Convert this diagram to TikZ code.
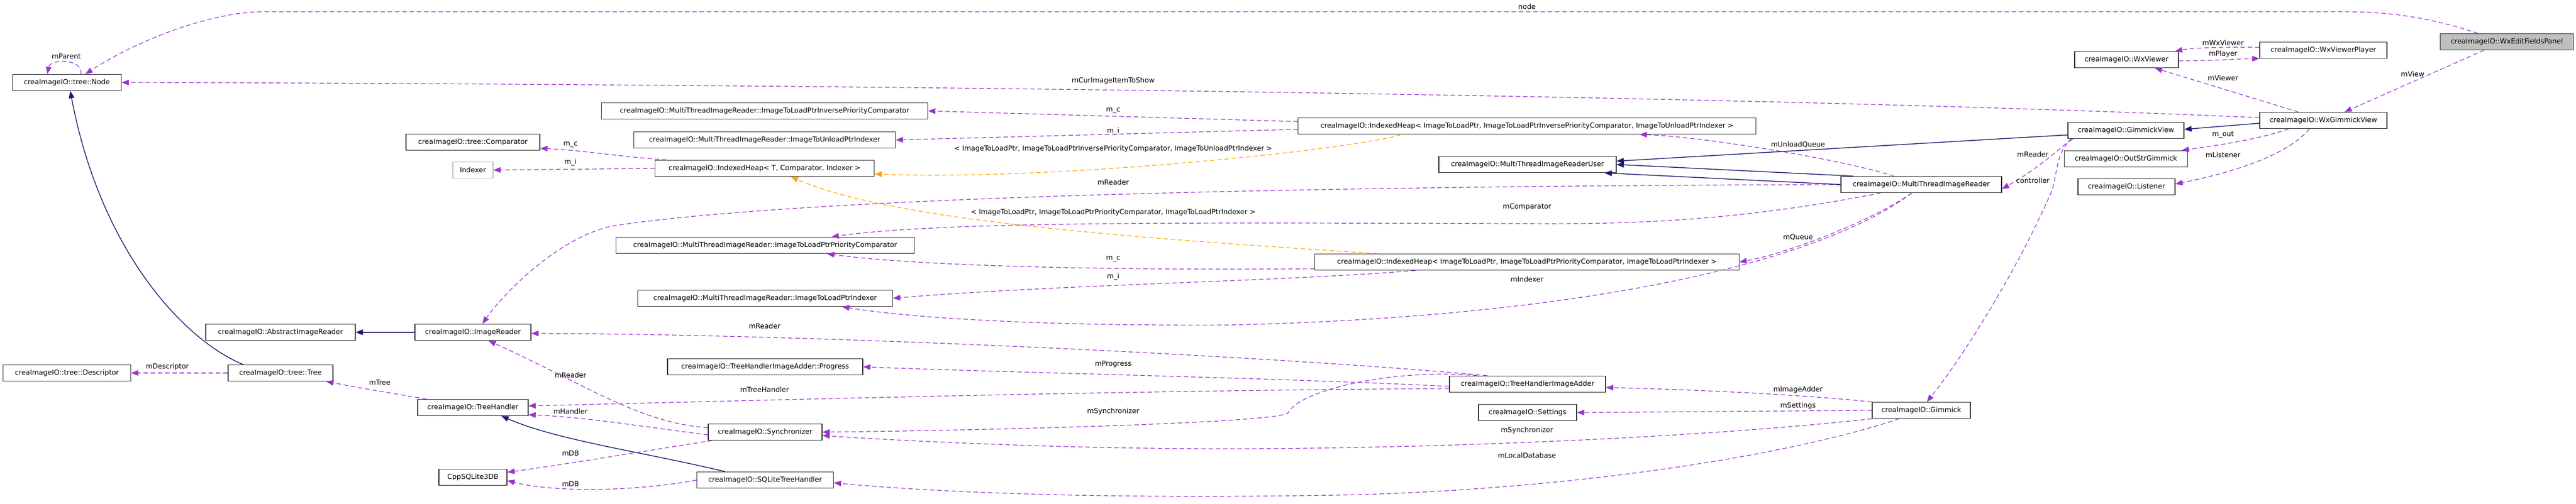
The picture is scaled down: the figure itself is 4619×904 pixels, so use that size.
\documentclass[tikz,border=0pt]{standalone}
\usepackage{fontspec}
\setmainfont{DejaVu Sans}
\usetikzlibrary{arrows.meta}
\definecolor{mbr}{HTML}{9A32CD}
\definecolor{inh}{HTML}{191970}
\definecolor{tpl}{HTML}{FFA500}
\tikzset{
  cls/.style={draw=black!80, line width=1.3pt, minimum height=29pt, inner sep=0pt, font=\fontsize{12.5}{14}\selectfont},
  lbl/.style={inner sep=0pt, font=\fontsize{12.5}{14}\selectfont},
  member/.style={draw=mbr, line width=1.2pt, dash pattern=on 8pt off 5pt, -{Triangle[length=13pt,width=10pt]}},
  tmpl/.style={member, draw=tpl, -{Triangle[length=13pt,width=10pt,color=tpl]}},
  inherit/.style={draw=inh, line width=1.4pt, -{Triangle[length=13pt,width=10pt]}}
}
\begin{document}
\begin{tikzpicture}[x=1pt,y=-1pt]
\useasboundingbox (0,0) rectangle (4619,904);

\node[cls, minimum width=195] (node) at (120,148) {creaImageIO::tree::Node};
\node[cls, minimum width=240] (comparator) at (848,255) {creaImageIO::tree::Comparator};
\node[cls, minimum width=72, draw=black!25] (indexer) at (848,305) {Indexer};
\node[cls, minimum width=268] (abstractreader) at (503,596) {creaImageIO::AbstractImageReader};
\node[cls, minimum width=208] (imagereader) at (848,596) {creaImageIO::ImageReader};
\node[cls, minimum width=229] (descriptor) at (120,669) {creaImageIO::tree::Descriptor};
\node[cls, minimum width=188] (tree) at (503,669) {creaImageIO::tree::Tree};
\node[cls, minimum width=198] (treehandler) at (848,731) {creaImageIO::TreeHandler};
\node[cls, minimum width=122] (sqlitedb) at (848,856) {CppSQLite3DB};
\node[cls, minimum width=585] (invcomparator) at (1371,199) {creaImageIO::MultiThreadImageReader::ImageToLoadPtrInversePriorityComparator};
\node[cls, minimum width=469] (unloadindexer) at (1371,251) {creaImageIO::MultiThreadImageReader::ImageToUnloadPtrIndexer};
\node[cls, minimum width=393] (heapT) at (1371,302) {creaImageIO::IndexedHeap< T, Comparator, Indexer >};
\node[cls, minimum width=535] (prioritycomparator) at (1372,440) {creaImageIO::MultiThreadImageReader::ImageToLoadPtrPriorityComparator};
\node[cls, minimum width=457] (loadindexer) at (1372,535) {creaImageIO::MultiThreadImageReader::ImageToLoadPtrIndexer};
\node[cls, minimum width=350] (progress) at (1372,658) {creaImageIO::TreeHandlerImageAdder::Progress};
\node[cls, minimum width=204] (synchronizer) at (1372,775) {creaImageIO::Synchronizer};
\node[cls, minimum width=245] (sqlitetreehandler) at (1372,861) {creaImageIO::SQLiteTreeHandler};
\node[cls, minimum width=821] (heapinv) at (2738,226) {creaImageIO::IndexedHeap< ImageToLoadPtr, ImageToLoadPtrInversePriorityComparator, ImageToUnloadPtrIndexer >};
\node[cls, minimum width=318] (readeruser) at (2739,295) {creaImageIO::MultiThreadImageReaderUser};
\node[cls, minimum width=761] (heapprio) at (2738,470) {creaImageIO::IndexedHeap< ImageToLoadPtr, ImageToLoadPtrPriorityComparator, ImageToLoadPtrIndexer >};
\node[cls, minimum width=280] (imageadder) at (2739,689) {creaImageIO::TreeHandlerImageAdder};
\node[cls, minimum width=176] (settings) at (2739,740) {creaImageIO::Settings};
\node[cls, minimum width=288] (mtreader) at (3445,331) {creaImageIO::MultiThreadImageReader};
\node[cls, minimum width=176] (gimmick) at (3445,736) {creaImageIO::Gimmick};
\node[cls, minimum width=208] (gimmickview) at (3812,234) {creaImageIO::GimmickView};
\node[cls, minimum width=186] (wxviewer) at (3813,107) {creaImageIO::WxViewer};
\node[cls, minimum width=221] (outstr) at (3812,285) {creaImageIO::OutStrGimmick};
\node[cls, minimum width=174] (listener) at (3813,335) {creaImageIO::Listener};
\node[cls, minimum width=228] (wxplayer) at (4166,90) {creaImageIO::WxViewerPlayer};
\node[cls, minimum width=228] (wxgimmickview) at (4166,216) {creaImageIO::WxGimmickView};
\node[cls, minimum width=239, fill=black!25] (editpanel) at (4495,75) {creaImageIO::WxEditFieldsPanel};

\draw[member] ([xshift=-52]editpanel.north) .. controls (4330,22) and (4250,21) .. (4186,21) -- (474,21) .. controls (380,21) and (250,70) .. ([xshift=33]node.north);
\draw[member] ([xshift=25]node.north) .. controls (150,105) and (90,105) .. ([xshift=-35]node.north);
\draw[member] ([yshift=5]wxgimmickview.west) .. controls (3000,165) and (1200,150) .. (node.east);
\draw[member] ([yshift=8]heapinv.west) -- (invcomparator.east);
\draw[member] ([yshift=-6]heapinv.west) -- (unloadindexer.east);
\draw[tmpl] ([xshift=-226]heapinv.south) .. controls (2450,265) and (1900,325) .. ([yshift=-10]heapT.east);
\draw[member] ([xshift=-176]heapT.north) .. controls (1100,280) and (1050,270) .. ([yshift=-11]comparator.east);
\draw[member] (heapT.west) -- (indexer.east);
\draw[member] (mtreader.west) .. controls (2600,333) and (1500,345) .. (1100,405) .. controls (1000,425) and (900,530) .. ([xshift=17]imagereader.north);
\draw[tmpl] ([xshift=-268]heapprio.north) .. controls (2000,425) and (1600,395) .. ([xshift=47]heapT.south);
\draw[member] ([xshift=-73]mtreader.south) .. controls (3100,400) and (2900,402) .. (2738,401) .. controls (2200,400) and (1700,395) .. ([xshift=119]prioritycomparator.north);
\draw[member] ([yshift=-12]heapprio.west) .. controls (2000,485) and (1650,478) .. ([xshift=111]prioritycomparator.south);
\draw[member] ([xshift=-200]heapprio.south) .. controls (2300,505) and (1900,510) .. (loadindexer.east);
\draw[member] ([xshift=-49]mtreader.north) .. controls (3300,285) and (3050,245) .. ([xshift=202]heapinv.south);
\draw[inherit] ([yshift=-8]gimmickview.west) -- ([yshift=6]readeruser.east);
\draw[inherit] ([xshift=-122]mtreader.north) -- (readeruser.east);
\draw[inherit] (mtreader.west) -- ([xshift=138]readeruser.south);
\draw[member] ([xshift=-17]mtreader.south) .. controls (3350,400) and (3200,455) .. (heapprio.east);
\draw[member] ([xshift=-17]mtreader.south) .. controls (3250,480) and (2800,570) .. (2200,583) .. controls (1800,585) and (1600,565) .. ([xshift=138]loadindexer.south);
\draw[member] ([xshift=-72]imageadder.north) .. controls (2300,640) and (1500,600) .. ([yshift=-2]imagereader.east);
\draw[member] ([yshift=-4]imageadder.west) .. controls (2300,678) and (1800,668) .. (progress.east);
\draw[member] ([yshift=-8]imageadder.west) .. controls (2000,700) and (1300,720) .. ([yshift=3]treehandler.east);
\draw[member] ([xshift=-90]imageadder.north) .. controls (2500,660) and (2330,700) .. (2310,740) .. controls (2300,760) and (1700,773) .. (synchronizer.east);
\draw[member] ([yshift=8]synchronizer.west) .. controls (1150,760) and (1050,690) .. ([xshift=28]imagereader.south);
\draw[member] ([yshift=-5]synchronizer.west) .. controls (1150,765) and (1050,748) .. ([yshift=-13]treehandler.east);
\draw[member] ([xshift=-83]treehandler.north) .. controls (700,705) and (640,695) .. ([xshift=82]tree.south);
\draw[member] (tree.west) -- (descriptor.east);
\draw[inherit] ([xshift=-67]tree.north) .. controls (330,610) and (180,450) .. ([xshift=6]node.south);
\draw[inherit] (imagereader.west) -- (abstractreader.east);
\draw[inherit] ([xshift=-72]sqlitetreehandler.north) .. controls (1150,810) and (1000,790) .. ([xshift=51]treehandler.south);
\draw[member] ([xshift=-95]synchronizer.south) .. controls (1150,810) and (1000,835) .. ([yshift=9]sqlitedb.east);
\draw[member] (sqlitetreehandler.west) .. controls (1150,880) and (1000,885) .. ([yshift=-6]sqlitedb.east);
\draw[member] (gimmick.north west) .. controls (3200,705) and (3000,698) .. ([yshift=-6]imageadder.east);
\draw[member] (gimmick.west) -- (settings.east);
\draw[member] (gimmick.south west) .. controls (3000,790) and (2500,805) .. (2200,805) .. controls (1900,805) and (1600,790) .. ([yshift=-6]synchronizer.east);
\draw[member] ([xshift=-40]gimmick.south) .. controls (3200,820) and (2800,880) .. (2400,888) .. controls (2000,895) and (1700,885) .. ([yshift=-5]sqlitetreehandler.east);
\draw[member] ([xshift=-95]gimmickview.south) .. controls (3690,265) and (3690,300) .. (3680,340) .. controls (3620,480) and (3520,640) .. ([xshift=10]gimmick.north);
\draw[member] ([xshift=-98]gimmickview.south) .. controls (3690,270) and (3650,305) .. ([yshift=-8]mtreader.east);
\draw[inherit] ([yshift=-5]wxgimmickview.west) -- ([yshift=2]gimmickview.east);
\draw[member] ([xshift=-45]wxgimmickview.north) -- ([xshift=51]wxviewer.south);
\draw[member] ([yshift=5]wxplayer.west) .. controls (3980,84) and (3930,86) .. ([xshift=87]wxviewer.north);
\draw[member] ([yshift=-2]wxviewer.east) .. controls (3970,109) and (4000,106) .. ([yshift=-15]wxplayer.west);
\draw[member] ([xshift=-41]editpanel.south) -- ([xshift=38]wxgimmickview.north);
\draw[member] ([xshift=-62]wxgimmickview.south) .. controls (4050,250) and (3980,260) .. ([xshift=100]outstr.north);
\draw[member] ([xshift=-25]wxgimmickview.south) .. controls (4100,280) and (4000,310) .. ([yshift=5]listener.east);

\node[lbl] (lnode) at (2738,12) {node};
\node[lbl] (lparent) at (119,101) {mParent};
\node[lbl] (lcurimage) at (1996,145) {mCurImageItemToShow};
\node[lbl] (lmcinv) at (1996,198) {m\_c};
\node[lbl] (lmiinv) at (1996,235) {m\_i};
\node[lbl] (ltplinv) at (1996,267) {< ImageToLoadPtr, ImageToLoadPtrInversePriorityComparator, ImageToUnloadPtrIndexer >};
\node[lbl] (lmcT) at (1023,259) {m\_c};
\node[lbl] (lmiT) at (1023,291) {m\_i};
\node[lbl] (lreadermt) at (1996,327) {mReader};
\node[lbl] (ltplprio) at (1996,381) {< ImageToLoadPtr, ImageToLoadPtrPriorityComparator, ImageToLoadPtrIndexer >};
\node[lbl] (lcomparator) at (2738,371) {mComparator};
\node[lbl] (lmcprio) at (1996,464) {m\_c};
\node[lbl] (lmiprio) at (1996,496) {m\_i};
\node[lbl] (lunload) at (3224,260) {mUnloadQueue};
\node[lbl] (lqueue) at (3224,426) {mQueue};
\node[lbl] (lindexer) at (2738,501) {mIndexer};
\node[lbl] (lreaderadd) at (1371,585) {mReader};
\node[lbl] (lprogress) at (1996,653) {mProgress};
\node[lbl] (ltreehandler) at (1371,699) {mTreeHandler};
\node[lbl] (lsyncadd) at (1996,738) {mSynchronizer};
\node[lbl] (lreadersync) at (1023,673) {mReader};
\node[lbl] (lhandler) at (1023,738) {mHandler};
\node[lbl] (ltree) at (681,686) {mTree};
\node[lbl] (ldescriptor) at (300,658) {mDescriptor};
\node[lbl] (ldbsync) at (1023,813) {mDB};
\node[lbl] (ldbsql) at (1023,868) {mDB};
\node[lbl] (limageadder) at (3224,699) {mImageAdder};
\node[lbl] (lsettings) at (3224,728) {mSettings};
\node[lbl] (lsyncgim) at (2738,772) {mSynchronizer};
\node[lbl] (llocaldb) at (2738,817) {mLocalDatabase};
\node[lbl] (lcontroller) at (3645,324) {controller};
\node[lbl] (lreaderview) at (3645,277) {mReader};
\node[lbl] (lviewer) at (3986,140) {mViewer};
\node[lbl] (lwxviewer) at (3986,77) {mWxViewer};
\node[lbl] (lplayer) at (3986,97) {mPlayer};
\node[lbl] (lview) at (4326,133) {mView};
\node[lbl] (lout) at (3986,242) {m\_out};
\node[lbl] (llistener) at (3986,278) {mListener};
\end{tikzpicture}
\end{document}
